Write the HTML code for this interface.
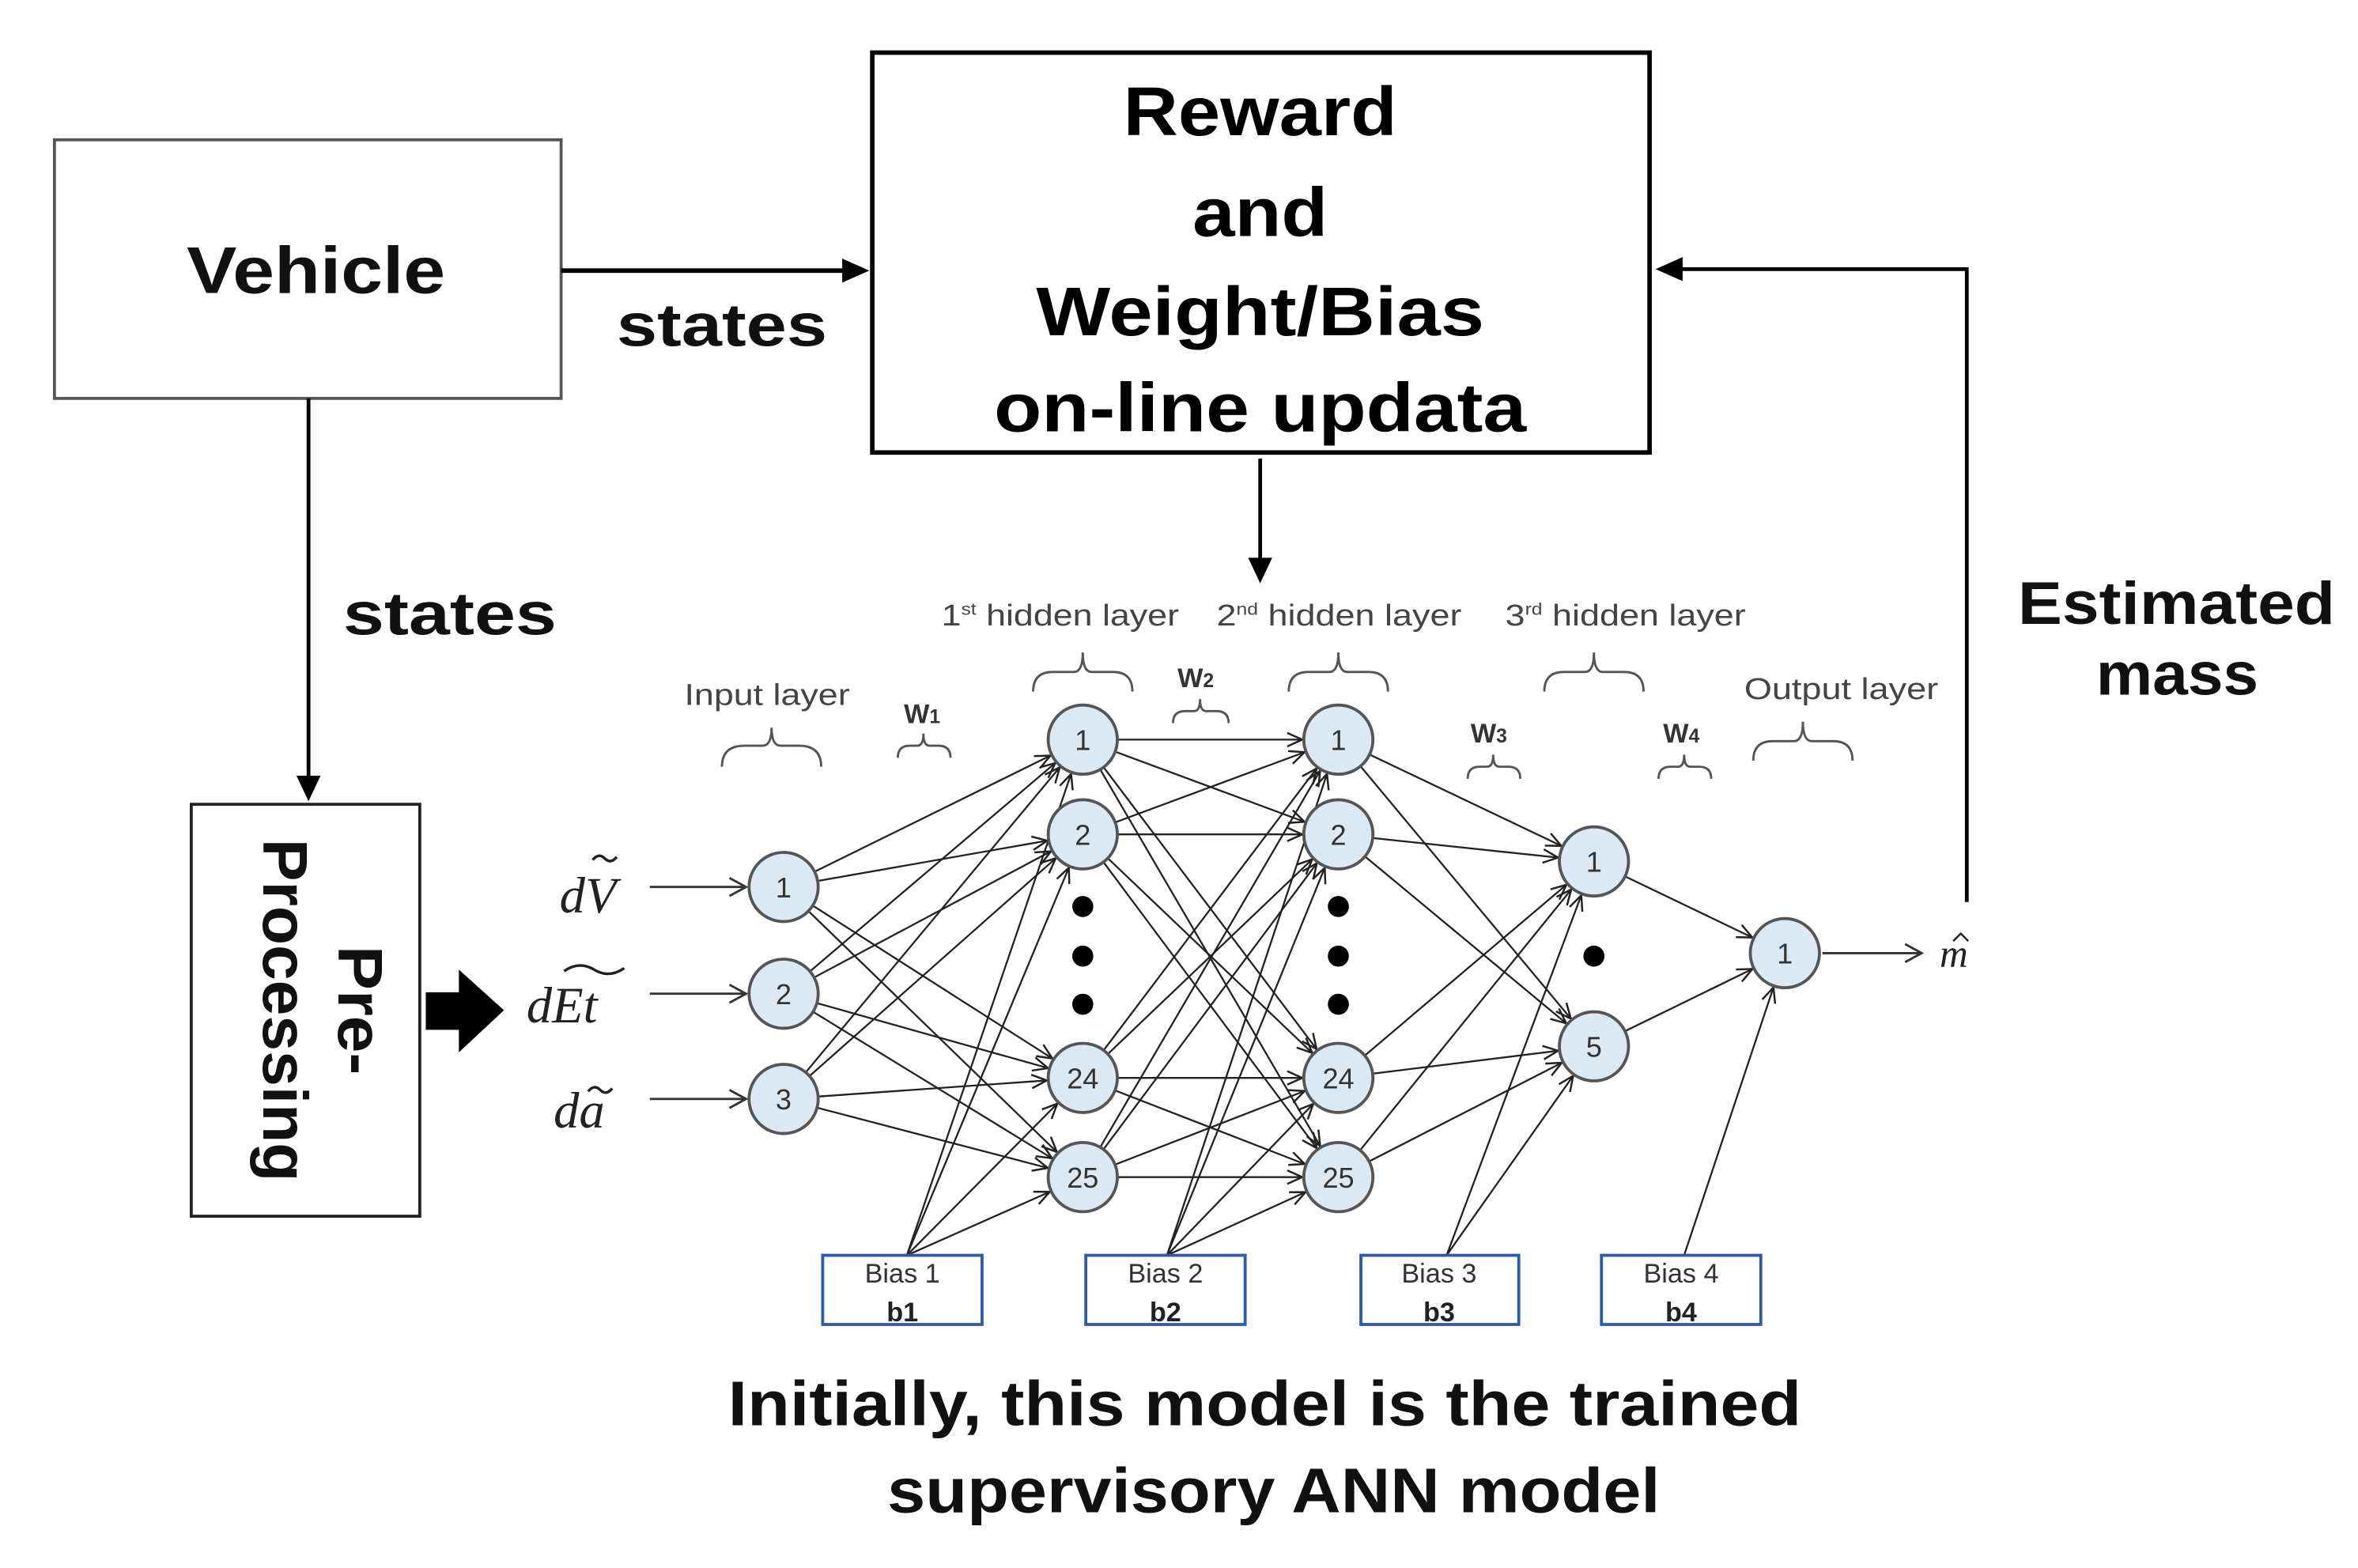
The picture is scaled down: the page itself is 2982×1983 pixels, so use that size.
<!DOCTYPE html>
<html><head><meta charset="utf-8"><style>
html,body{margin:0;padding:0;background:#fff;}
svg{display:block;}
.s{font-family:"Liberation Sans",sans-serif;}
.m{font-family:"Liberation Serif",serif;font-style:italic;}
</style></head><body>
<svg width="2982" height="1983" viewBox="0 0 1568 1043" xmlns="http://www.w3.org/2000/svg" class="s">

<!-- Boxes -->
<rect x="36" y="93" width="337" height="172" fill="#fff" stroke="#555" stroke-width="2"/>
<text class="s" x="210" y="195" font-size="44" text-anchor="middle" font-weight="bold" fill="#111" textLength="172" lengthAdjust="spacingAndGlyphs">Vehicle</text>
<rect x="580" y="35" width="517" height="266" fill="#fff" stroke="#000" stroke-width="3"/>
<g class="s" font-weight="bold" font-size="46" text-anchor="middle" fill="#000">
<text x="838" y="90" textLength="182" lengthAdjust="spacingAndGlyphs">Reward</text>
<text x="838" y="157" textLength="90" lengthAdjust="spacingAndGlyphs">and</text>
<text x="838" y="223" textLength="298" lengthAdjust="spacingAndGlyphs">Weight/Bias</text>
<text x="838" y="287" textLength="354" lengthAdjust="spacingAndGlyphs">on-line updata</text>
</g>
<rect x="127" y="535" width="152" height="274" fill="#fff" stroke="#222" stroke-width="2"/>
<g transform="translate(203,672) rotate(90)" class="s" font-size="42" font-weight="bold" text-anchor="middle" fill="#111">
<text x="0" y="-22" textLength="86" lengthAdjust="spacingAndGlyphs">Pre-</text>
<text x="0" y="28" textLength="228" lengthAdjust="spacingAndGlyphs">Processing</text>
</g>

<!-- Connectors -->
<line x1="373" y1="180" x2="566" y2="180" stroke="#000" stroke-width="3"/>
<polygon points="560,172 578,180 560,188" fill="#000"/>
<line x1="205" y1="265" x2="205" y2="520" stroke="#000" stroke-width="2.5"/>
<polygon points="197,516 205,533 213,516" fill="#000"/>
<line x1="838" y1="305" x2="838" y2="375" stroke="#000" stroke-width="2.5"/>
<polygon points="830,371 838,388 846,371" fill="#000"/>
<polyline points="1308,600 1308,179 1115,179" fill="none" stroke="#000" stroke-width="2.5"/>
<polygon points="1119,171 1101,179 1119,187" fill="#000"/>
<path d="M283,660 L305,660 L305,645 L335,672 L305,700 L305,685 L283,685 Z" fill="#000"/>

<g class="s" font-weight="bold" font-size="40" fill="#111">
<text x="410" y="230" textLength="140" lengthAdjust="spacingAndGlyphs">states</text>
<text x="228" y="422" textLength="142" lengthAdjust="spacingAndGlyphs">states</text>
<text x="1342" y="415" textLength="211" lengthAdjust="spacingAndGlyphs">Estimated</text>
<text x="1448" y="462" text-anchor="middle" textLength="108" lengthAdjust="spacingAndGlyphs">mass</text>
</g>

<!-- Input/output arrows -->
<g stroke="#333" stroke-width="1.5" fill="none">
<line x1="432" y1="590" x2="496" y2="590"/><polyline points="485,584 496,590 485,596"/>
<line x1="432" y1="661" x2="496" y2="661"/><polyline points="485,655 496,661 485,667"/>
<line x1="432" y1="731" x2="496" y2="731"/><polyline points="485,725 496,731 485,737"/>
<line x1="1212" y1="634" x2="1278" y2="634"/><polyline points="1267,628 1278,634 1267,640"/>
</g>
<g class="m" font-size="34" fill="#222">
<text class="m" x="372" y="607">dV</text>
<path d="M394,572 q4,-5 8,-1 q4,4 8,-1" fill="none" stroke="#222" stroke-width="1.8"/>
<text class="m" x="350" y="680">dEt</text>
<path d="M375,646 q10,-7 20,-1 q10,6 20,-1" fill="none" stroke="#222" stroke-width="1.8"/>
<text class="m" x="368" y="750">da</text>
<path d="M391,726 q4,-5 8,-1 q4,4 8,-1" fill="none" stroke="#222" stroke-width="1.8"/>
<text class="m" x="1290" y="643" font-size="26">m</text>
<path d="M1299,626 l5,-5 l5,5" fill="none" stroke="#222" stroke-width="1.3"/>
</g>

<!-- Network connections -->
<g id="net" stroke="#222" stroke-width="1.2">
<line x1="521" y1="590" x2="720" y2="492"/><line x1="521" y1="590" x2="720" y2="555"/><line x1="521" y1="590" x2="720" y2="717"/><line x1="521" y1="590" x2="720" y2="783"/>
<line x1="521" y1="661" x2="720" y2="492"/><line x1="521" y1="661" x2="720" y2="555"/><line x1="521" y1="661" x2="720" y2="717"/><line x1="521" y1="661" x2="720" y2="783"/>
<line x1="521" y1="731" x2="720" y2="492"/><line x1="521" y1="731" x2="720" y2="555"/><line x1="521" y1="731" x2="720" y2="717"/><line x1="521" y1="731" x2="720" y2="783"/>
<line x1="720" y1="492" x2="890" y2="492"/><line x1="720" y1="492" x2="890" y2="555"/><line x1="720" y1="492" x2="890" y2="717"/><line x1="720" y1="492" x2="890" y2="783"/>
<line x1="720" y1="555" x2="890" y2="492"/><line x1="720" y1="555" x2="890" y2="555"/><line x1="720" y1="555" x2="890" y2="717"/><line x1="720" y1="555" x2="890" y2="783"/>
<line x1="720" y1="717" x2="890" y2="492"/><line x1="720" y1="717" x2="890" y2="555"/><line x1="720" y1="717" x2="890" y2="717"/><line x1="720" y1="717" x2="890" y2="783"/>
<line x1="720" y1="783" x2="890" y2="492"/><line x1="720" y1="783" x2="890" y2="555"/><line x1="720" y1="783" x2="890" y2="717"/><line x1="720" y1="783" x2="890" y2="783"/>
<line x1="890" y1="492" x2="1060" y2="573"/><line x1="890" y1="492" x2="1060" y2="696"/>
<line x1="890" y1="555" x2="1060" y2="573"/><line x1="890" y1="555" x2="1060" y2="696"/>
<line x1="890" y1="717" x2="1060" y2="573"/><line x1="890" y1="717" x2="1060" y2="696"/>
<line x1="890" y1="783" x2="1060" y2="573"/><line x1="890" y1="783" x2="1060" y2="696"/>
<line x1="1060" y1="573" x2="1187" y2="634"/><line x1="1060" y1="696" x2="1187" y2="634"/>
<line x1="603" y1="835" x2="720" y2="492"/><line x1="603" y1="835" x2="720" y2="555"/><line x1="603" y1="835" x2="720" y2="717"/><line x1="603" y1="835" x2="720" y2="783"/>
<line x1="776" y1="835" x2="890" y2="492"/><line x1="776" y1="835" x2="890" y2="555"/><line x1="776" y1="835" x2="890" y2="717"/><line x1="776" y1="835" x2="890" y2="783"/>
<line x1="962" y1="835" x2="1060" y2="573"/><line x1="962" y1="835" x2="1060" y2="696"/>
<line x1="1120" y1="835" x2="1187" y2="634"/>
</g>
<g id="heads" stroke="#222" stroke-width="1.3" fill="none"></g>

<!-- Nodes -->
<g fill="#dbe9f5" stroke="#555" stroke-width="2">
<circle cx="521" cy="590" r="23"/><circle cx="521" cy="661" r="23"/><circle cx="521" cy="731" r="23"/>
<circle cx="720" cy="492" r="23"/><circle cx="720" cy="555" r="23"/><circle cx="720" cy="717" r="23"/><circle cx="720" cy="783" r="23"/>
<circle cx="890" cy="492" r="23"/><circle cx="890" cy="555" r="23"/><circle cx="890" cy="717" r="23"/><circle cx="890" cy="783" r="23"/>
<circle cx="1060" cy="573" r="23"/><circle cx="1060" cy="696" r="23"/>
<circle cx="1187" cy="634" r="23"/>
</g>
<g font-size="19" text-anchor="middle" fill="#333">
<text x="521" y="597">1</text><text x="521" y="668">2</text><text x="521" y="738">3</text>
<text x="720" y="499">1</text><text x="720" y="562">2</text><text x="720" y="724">24</text><text x="720" y="790">25</text>
<text x="890" y="499">1</text><text x="890" y="562">2</text><text x="890" y="724">24</text><text x="890" y="790">25</text>
<text x="1060" y="580">1</text><text x="1060" y="703">5</text>
<text x="1187" y="641">1</text>
</g>
<g fill="#000">
<circle cx="720" cy="603" r="7"/><circle cx="720" cy="636" r="7"/><circle cx="720" cy="668" r="7"/>
<circle cx="890" cy="603" r="7"/><circle cx="890" cy="636" r="7"/><circle cx="890" cy="668" r="7"/>
<circle cx="1060" cy="636" r="7"/>
</g>

<!-- Bias boxes -->
<g fill="#fff" stroke="#2e5aa8" stroke-width="2">
<rect x="547" y="835" width="106" height="46"/><rect x="722" y="835" width="106" height="46"/>
<rect x="905" y="835" width="105" height="46"/><rect x="1065" y="835" width="106" height="46"/>
</g>
<g font-size="18" text-anchor="middle" fill="#333">
<text x="600" y="853">Bias 1</text><text x="775" y="853">Bias 2</text><text x="957" y="853">Bias 3</text><text x="1118" y="853">Bias 4</text>
</g>
<g font-size="18" font-weight="bold" text-anchor="middle" fill="#222">
<text x="600" y="879">b1</text><text x="775" y="879">b2</text><text x="957" y="879">b3</text><text x="1118" y="879">b4</text>
</g>

<!-- Layer labels -->
<g font-size="20" fill="#444">
<text x="455" y="469" textLength="110" lengthAdjust="spacingAndGlyphs">Input layer</text>
<text x="626" y="416" textLength="158" lengthAdjust="spacingAndGlyphs">1<tspan font-size="11" dy="-7">st</tspan><tspan dy="7"> hidden layer</tspan></text>
<text x="809" y="416" textLength="163" lengthAdjust="spacingAndGlyphs">2<tspan font-size="11" dy="-7">nd</tspan><tspan dy="7"> hidden layer</tspan></text>
<text x="1001" y="416" textLength="160" lengthAdjust="spacingAndGlyphs">3<tspan font-size="11" dy="-7">rd</tspan><tspan dy="7"> hidden layer</tspan></text>
<text x="1160" y="465" textLength="129" lengthAdjust="spacingAndGlyphs">Output layer</text>
</g>
<g font-size="18" font-weight="bold" fill="#333">
<text x="601" y="481">W<tspan font-size="13">1</tspan></text>
<text x="783" y="457">W<tspan font-size="13">2</tspan></text>
<text x="978" y="494">W<tspan font-size="13">3</tspan></text>
<text x="1106" y="494">W<tspan font-size="13">4</tspan></text>
</g>
<g fill="none" stroke="#555" stroke-width="1.5">
<path d="M480,510 Q480,496 495,496 L507,496 Q513,496 513,484 Q513,496 519,496 L531,496 Q546,496 546,510"/>
<path d="M597,504 Q597,496 605,496 L610,496 Q614,496 614,488 Q614,496 618,496 L624,496 Q632,496 632,504"/>
<path d="M687,460 Q687,447 700,447 L714,447 Q720,447 720,434 Q720,447 726,447 L740,447 Q753,447 753,460"/>
<path d="M780,481 Q780,473 788,473 L794,473 Q798,473 798,465 Q798,473 802,473 L809,473 Q817,473 817,481"/>
<path d="M857,460 Q857,447 870,447 L884,447 Q890,447 890,434 Q890,447 896,447 L910,447 Q923,447 923,460"/>
<path d="M1027,460 Q1027,447 1040,447 L1054,447 Q1060,447 1060,434 Q1060,447 1066,447 L1080,447 Q1093,447 1093,460"/>
<path d="M976,518 Q976,510 984,510 L989,510 Q993,510 993,502 Q993,510 997,510 L1003,510 Q1011,510 1011,518"/>
<path d="M1103,518 Q1103,510 1111,510 L1116,510 Q1120,510 1120,502 Q1120,510 1124,510 L1130,510 Q1138,510 1138,518"/>
<path d="M1166,506 Q1166,493 1179,493 L1193,493 Q1199,493 1199,480 Q1199,493 1205,493 L1219,493 Q1232,493 1232,506"/>
</g>

<!-- Caption -->
<g font-size="42" font-weight="bold" text-anchor="middle" fill="#111">
<text x="841" y="948" textLength="714" lengthAdjust="spacingAndGlyphs">Initially, this model is the trained</text>
<text x="847" y="1006" textLength="514" lengthAdjust="spacingAndGlyphs">supervisory ANN model</text>
</g>
</svg>
<script>
(function(){
var ns="http://www.w3.org/2000/svg";
var g=document.getElementById("heads");
var ls=document.querySelectorAll("#net line");
for(var i=0;i<ls.length;i++){
var l=ls[i];
var x1=+l.getAttribute("x1"),y1=+l.getAttribute("y1"),x2=+l.getAttribute("x2"),y2=+l.getAttribute("y2");
var dx=x2-x1,dy=y2-y1,d=Math.sqrt(dx*dx+dy*dy),ux=dx/d,uy=dy/d;
var tx=x2-ux*24,ty=y2-uy*24;
var bx=tx-ux*10,by=ty-uy*10,px=-uy*4.5,py=ux*4.5;
var p=document.createElementNS(ns,"polyline");
p.setAttribute("points",(bx+px)+","+(by+py)+" "+tx+","+ty+" "+(bx-px)+","+(by-py));
g.appendChild(p);
}
})();
</script>
</body></html>
